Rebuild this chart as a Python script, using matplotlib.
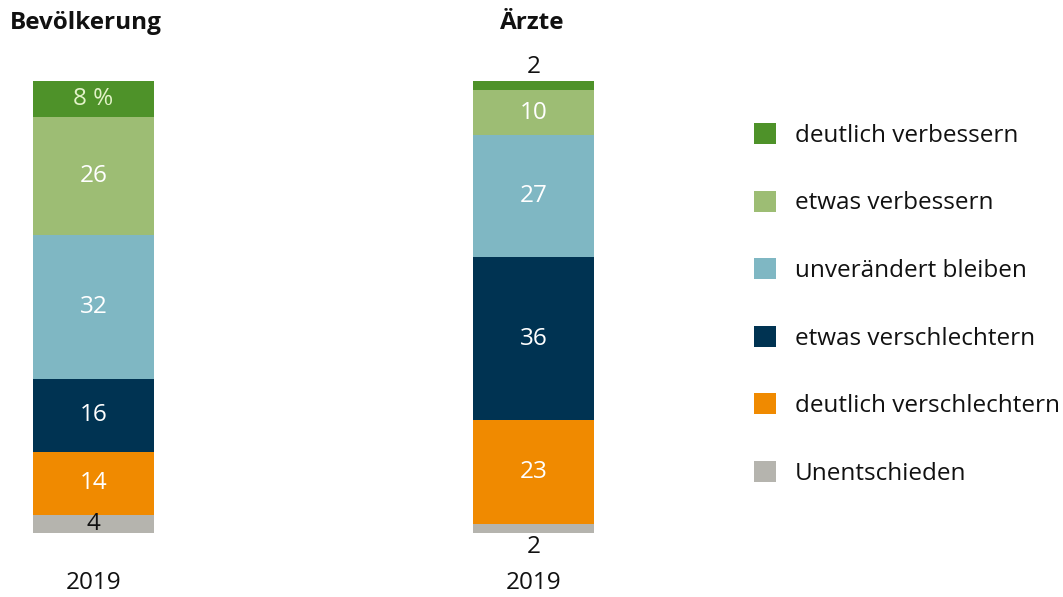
import matplotlib.pyplot as plt
from matplotlib.patches import Patch

plt.rcParams['font.family'] = ['Open Sans', 'DejaVu Sans']

# Data (bottom to top of the stack)
categories = ['Unentschieden', 'deutlich verschlechtern', 'etwas verschlechtern',
              'unverändert bleiben', 'etwas verbessern', 'deutlich verbessern']
colors = ['#b5b4ae', '#f08a00', '#003352', '#7fb7c3', '#9dbd74', '#4e9229']
groups = ['Bevölkerung', 'Ärzte']
years = ['2019', '2019']
bevoelkerung = [4, 14, 16, 32, 26, 8]
aerzte = [2, 23, 36, 27, 10, 2]
series = [bevoelkerung, aerzte]

FS = 17.5

fig = plt.figure(figsize=(10.63, 5.97), dpi=100)
ax = fig.add_axes([0, 0, 1, 1])
ax.set_xlim(-93.5 / 440, (1063 - 93.5) / 440)
ax.set_ylim(-(597 - 533) / 4.52, 100 + 81 / 4.52)
ax.axis('off')

width = 121 / 440
for gi, vals in enumerate(series):
    bottom = 0
    for ci, v in enumerate(vals):
        ax.bar(gi, v, width, bottom=bottom, color=colors[ci], linewidth=0)
        mid = bottom + v / 2
        if v >= 8:
            txt = str(v)
            tc = 'white'
            if gi == 0 and ci == len(vals) - 1:
                txt = f'{v} %'
                tc = '#e2f2c8'
            ax.text(gi, mid, txt, ha='center', va='center', color=tc, fontsize=FS)
        elif v >= 4:
            ax.text(gi, mid, str(v), ha='center', va='center', color='#111111', fontsize=FS)
        else:
            # small values placed outside the bar
            if ci == 0:
                ax.text(gi, bottom - 3.2, str(v), ha='center', va='center',
                        color='#111111', fontsize=FS)
            else:
                ax.text(gi, bottom + v + 3.0, str(v), ha='center', va='center',
                        color='#111111', fontsize=FS)
        bottom += v
    ax.text(gi, -11, years[gi], ha='center', va='center', color='#111111', fontsize=FS)

ax.text(-83.5 / 440, 112.8, groups[0], ha='left', va='center',
        fontsize=FS, fontweight='bold', color='#111111')
ax.text(1 - 1.5 / 440, 112.8, groups[1], ha='center', va='center',
        fontsize=FS, fontweight='bold', color='#111111')

handles = [Patch(facecolor=colors[i], edgecolor='none', label=categories[i])
           for i in range(len(categories) - 1, -1, -1)]
leg = fig.legend(handles=handles, loc='upper left', bbox_to_anchor=(754 / 1063, 1 - 123 / 597),
                 frameon=False, fontsize=FS, handlelength=0.9, handleheight=0.95,
                 handletextpad=0.78, labelspacing=1.76, borderpad=0, borderaxespad=0)
for t in leg.get_texts():
    t.set_color('#111111')

fig.savefig('out.png', dpi=100)
